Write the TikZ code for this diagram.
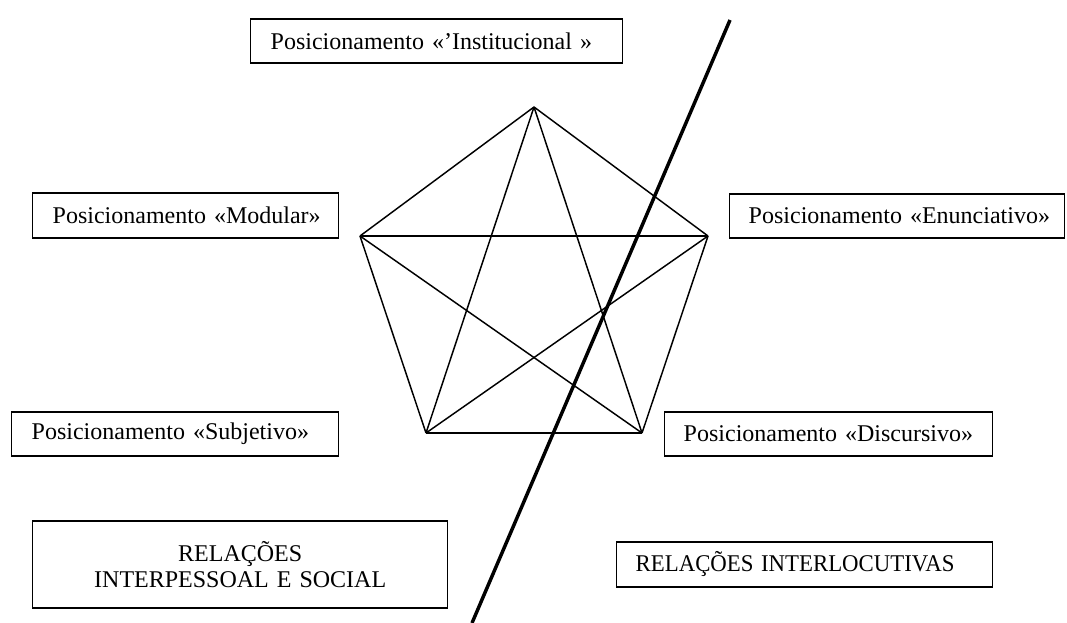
\documentclass[tikz,border=0pt]{standalone}
\usepackage{fontspec}
\setmainfont{Liberation Serif}
\begin{document}
\begin{tikzpicture}[x=0.75pt,y=-0.75pt,
  font=\fontsize{18}{19.5}\selectfont,
  box/.style={draw, line width=1.1pt, inner ysep=0pt, align=left, anchor=west},
  edge/.style={line width=1.1pt},
  divider/.style={line width=2.6pt}]
\useasboundingbox (0,0) rectangle (1067,623);

% boxes
\node[box, inner xsep=15pt, text width=249pt, minimum height=33pt] (inst) at (250,41)
  {\mbox{Posicionamento «’Institucional »}};
\node[box, inner xsep=15pt, text width=199.5pt, minimum height=33.75pt] (modu) at (32,215.5)
  {\mbox{Posicionamento «Modular»}};
\node[box, inner xsep=14.25pt, text width=222.75pt, minimum height=33pt] (enun) at (729,216)
  {\mbox{Posicionamento «Enunciativo»}};
\node[box, inner xsep=15pt, text width=215.25pt, minimum height=33pt] (subj) at (11,434)
  {\mbox{Posicionamento «Subjetivo»}};
\node[box, inner xsep=14.25pt, text width=217.5pt, minimum height=33pt] (disc) at (664,434)
  {\mbox{Posicionamento «Discursivo»}};
\node[box, inner xsep=0pt, text width=311.25pt, align=center, minimum height=65.25pt] (inter) at (32,564.5)
  {RELAÇÕES\\INTERPESSOAL E SOCIAL};
\node[box, inner xsep=14.25pt, text width=253.5pt, minimum height=33.75pt] (interl) at (616,564.5)
  {\mbox{\scalebox{0.95}[1]{RELAÇÕES INTERLOCUTIVAS}}};

% pentagon vertices
\coordinate (T) at (534,107);
\coordinate (L) at (360,236);
\coordinate (R) at (708,236);
\coordinate (BL) at (426,433);
\coordinate (BR) at (642,433);

\draw[edge] (T) -- (L);
\draw[edge] (T) -- (R);
\draw[edge] (T) -- (BL);
\draw[edge] (T) -- (BR);
\draw[edge] (L) -- (R);
\draw[edge] (L) -- (BL);
\draw[edge] (L) -- (BR);
\draw[edge] (R) -- (BL);
\draw[edge] (R) -- (BR);
\draw[edge] (BL) -- (BR);

% dividing line
\coordinate (dtop) at (730,20);
\coordinate (dbot) at (472,623);
\draw[divider] (dtop) -- (dbot);
\end{tikzpicture}
\end{document}
